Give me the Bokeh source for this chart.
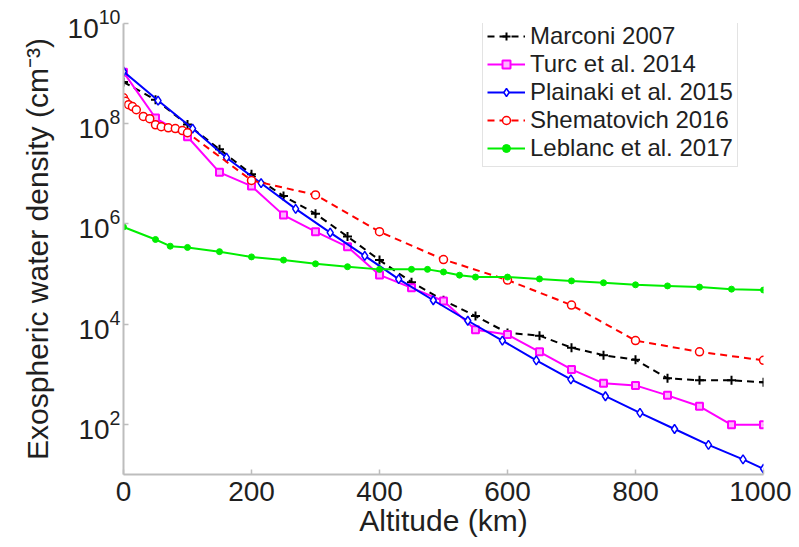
from bokeh.plotting import figure
from bokeh.models import FixedTicker, Legend, LegendItem, LogTickFormatter
from bokeh.embed import file_html
from bokeh.resources import INLINE

# ---- data ----
marconi_alt = [0, 50, 100, 150, 200, 250, 300, 350, 400, 450, 500, 550, 600, 650, 700, 750, 800, 850, 900, 950, 1000]
marconi_n = [6.8e8, 3.0e8, 9.6e7, 3.1e7, 9.8e6, 3.6e6, 1.6e6, 5.6e5, 1.9e5, 6.9e4, 3.0e4, 1.45e4, 6.7e3, 5.9e3,
             3.4e3, 2.4e3, 1.95e3, 8.3e2, 7.6e2, 7.6e2, 6.9e2]

turc_alt = [0, 50, 100, 150, 200, 250, 300, 350, 400, 450, 500, 550, 600, 650, 700, 750, 800, 850, 900, 950, 1000]
turc_n = [1.07e9, 1.3e8, 5.5e7, 1.07e7, 5.7e6, 1.5e6, 7.0e5, 3.5e5, 9.6e4, 5.3e4, 2.9e4, 7.7e3, 6.2e3, 2.8e3,
          1.25e3, 6.6e2, 6.0e2, 3.8e2, 2.3e2, 98, 98]

plainaki_alt = [0, 54, 108, 161, 215, 269, 323, 377, 430, 484, 538, 592, 645, 699, 753, 807, 861, 914, 968, 1000]
plainaki_n = [1.1e9, 2.9e8, 8.0e7, 2.1e7, 6.5e6, 2.0e6, 6.7e5, 2.3e5, 7.9e4, 3.0e4, 1.17e4, 4.7e3, 1.9e3, 7.9e2,
              3.65e2, 1.7e2, 81, 39, 20, 13]

shem_alt = [0, 3, 8, 14, 20, 31, 41, 50, 59, 70, 81, 92, 100, 200, 300, 400, 500, 600, 700, 800, 900, 1000]
shem_n = [3.3e8, 2.8e8, 2.4e8, 2.2e8, 1.9e8, 1.4e8, 1.26e8, 9.5e7, 8.7e7, 8.3e7, 8.0e7, 7.3e7, 6.6e7, 7.4e6,
          3.8e6, 7.0e5, 1.95e5, 7.6e4, 2.4e4, 4.7e3, 2.8e3, 1.9e3]

leblanc_alt = [0, 50, 73, 100, 150, 200, 250, 300, 350, 400, 450, 475, 500, 525, 550, 600, 650, 700, 750, 800,
               850, 900, 950, 1000]
leblanc_n = [8.7e5, 4.9e5, 3.6e5, 3.4e5, 2.8e5, 2.2e5, 1.9e5, 1.6e5, 1.4e5, 1.24e5, 1.24e5, 1.24e5, 1.1e5, 9.5e4,
             8.7e4, 8.7e4, 8.0e4, 7.3e4, 6.7e4, 6.1e4, 5.8e4, 5.5e4, 5.0e4, 4.8e4]

x_ticks = [0, 200, 400, 600, 800, 1000]
y_ticks = [1e2, 1e4, 1e6, 1e8, 1e10]

FONT = "Liberation Sans"
TXT = "#1f1f1f"
AX = "#bdbdbd"

p = figure(width=791, height=539, x_range=(0, 1000), y_range=(10, 1e10), y_axis_type="log",
           output_backend="svg", toolbar_location=None,
           min_border_left=123, min_border_right=28, min_border_top=23, min_border_bottom=61)
p.outline_line_color = None
p.grid.visible = False
p.background_fill_color = "white"
p.border_fill_color = "white"

for ax in (p.xaxis[0], p.yaxis[0]):
    ax.axis_line_color = AX
    ax.axis_line_width = 2
    ax.major_tick_line_color = AX
    ax.major_tick_line_width = 1.5
    ax.major_tick_in = 5
    ax.major_tick_out = 0
    ax.minor_tick_line_color = None
    ax.major_label_text_font = FONT
    ax.major_label_text_color = TXT
    ax.axis_label_text_font = FONT
    ax.axis_label_text_color = TXT
    ax.axis_label_text_font_style = "normal"

p.xaxis.ticker = FixedTicker(ticks=x_ticks)
p.xaxis.major_label_text_font_size = "28px"
p.xaxis.major_label_standoff = 7
p.xaxis.axis_label = "Altitude (km)"
p.xaxis.axis_label_text_font_size = "30px"
p.xaxis.axis_label_standoff = 0

p.yaxis.ticker = FixedTicker(ticks=y_ticks)
p.yaxis.formatter = LogTickFormatter()
p.yaxis.major_label_text_font_size = "28px"
p.yaxis.major_label_standoff = 3
p.yaxis.axis_label = "Exospheric water density (cm\u207b\u00b3)"
p.yaxis.axis_label_text_font_size = "30px"
p.yaxis.axis_label_standoff = 11

items = []

l1 = p.line(marconi_alt, marconi_n, line_color="black", line_width=2, line_dash="7 5")
s1 = p.scatter(marconi_alt, marconi_n, marker="cross", size=9, line_color="black", line_width=2)
items.append(LegendItem(label="Marconi 2007", renderers=[l1, s1]))

l2 = p.line(turc_alt, turc_n, line_color="#ff00ff", line_width=2)
s2 = p.scatter(turc_alt, turc_n, marker="square", size=7, line_color="#ff00ff", fill_color="#ffb3ff", line_width=2)
items.append(LegendItem(label="Turc et al. 2014", renderers=[l2, s2]))

l3 = p.line(plainaki_alt, plainaki_n, line_color="#0000ff", line_width=2)
s3 = p.scatter(plainaki_alt, plainaki_n, marker="diamond", size=9, line_color="#0000ff", fill_color="white", line_width=1.5)
items.append(LegendItem(label="Plainaki et al. 2015", renderers=[l3, s3]))

l4 = p.line(shem_alt, shem_n, line_color="#ff0000", line_width=2, line_dash="7 5")
s4 = p.scatter(shem_alt, shem_n, marker="circle", size=8, line_color="#ff0000", fill_color="white", line_width=1.5)
items.append(LegendItem(label="Shematovich 2016", renderers=[l4, s4]))

l5 = p.line(leblanc_alt, leblanc_n, line_color="#00ee00", line_width=2)
s5 = p.scatter(leblanc_alt, leblanc_n, marker="circle", size=6, line_color="#00ee00", fill_color="#00ee00")
items.append(LegendItem(label="Leblanc et al. 2017", renderers=[l5, s5]))

legend = Legend(items=items, location=(359, 307), label_text_font=FONT, label_text_font_size="24px",
                label_text_color=TXT, glyph_width=38, glyph_height=20, label_height=20, spacing=0,
                padding=4, margin=0, label_standoff=5,
                border_line_color="#c8c8c8", border_line_width=1.5, background_fill_color="white",
                background_fill_alpha=1.0)
p.add_layout(legend)

open("out.html", "w").write(file_html(p, INLINE))
